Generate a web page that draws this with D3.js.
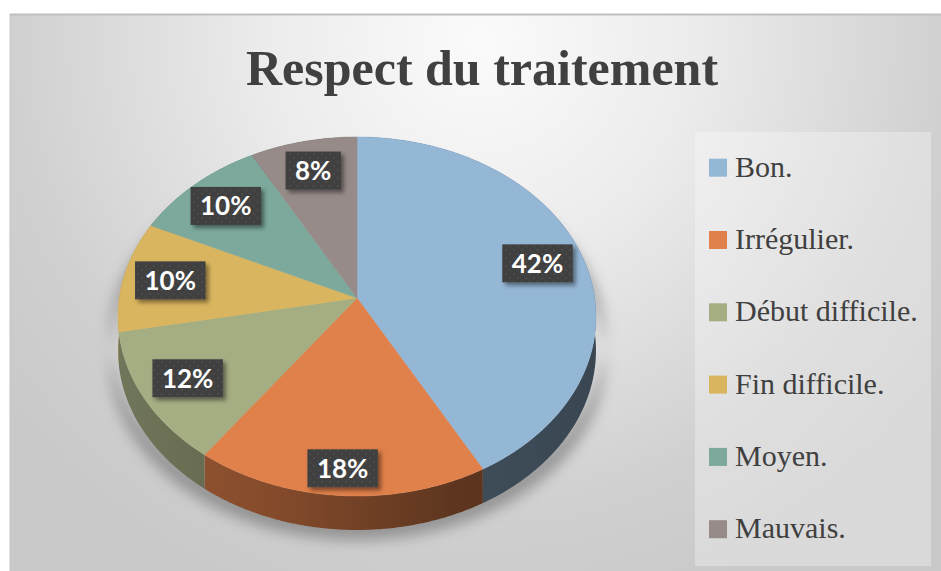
<!DOCTYPE html>
<html>
<head>
<meta charset="utf-8">
<script src="https://cdn.jsdelivr.net/npm/d3@7/dist/d3.min.js"></script>
<style>
  html, body { margin:0; padding:0; background:#fff; }
  svg { display:block; }
</style>
</head>
<body>
<svg id="chart" width="941" height="571"></svg>
<script>
// chart data
const title = 'Respect du traitement';
const categories = ['Bon.', 'Irrégulier.', 'Début difficile.', 'Fin difficile.', 'Moyen.', 'Mauvais.'];
const values = [42, 18, 12, 10, 10, 8];
const colors = ['#95b7d6', '#e0804a', '#a5ad83', '#dab55f', '#7ca99c', '#978b89'];

const svg = d3.select('#chart');
const defs = svg.append('defs');

// background gradient
const bg = defs.append('radialGradient').attr('id','bg').attr('gradientUnits','userSpaceOnUse')
  .attr('cx',480).attr('cy',40).attr('r',600);
bg.append('stop').attr('offset',0).attr('stop-color','#fbfbfb');
bg.append('stop').attr('offset',0.35).attr('stop-color','#ececec');
bg.append('stop').attr('offset',0.78).attr('stop-color','#d0d0d0');
bg.append('stop').attr('offset',1).attr('stop-color','#c9c9c9');

svg.append('rect').attr('x',10).attr('y',15).attr('width',931).attr('height',556).attr('fill','url(#bg)');
svg.append('line').attr('x1',10).attr('x2',941).attr('y1',14.5).attr('y2',14.5).attr('stroke','#bfbfbf').attr('stroke-width',2);
svg.append('line').attr('x1',10).attr('x2',10).attr('y1',14).attr('y2',571).attr('stroke','#c4c4c4').attr('stroke-width',1);

// title
svg.append('text').attr('x',482).attr('y',85).attr('text-anchor','middle')
  .attr('font-family','"Liberation Serif", serif').attr('font-weight','bold').attr('font-size',50)
  .attr('fill','#404040').text(title);

// pie geometry (mild perspective)
const cx = 357, cy = 298, ax = 237.7, by = 177.6, persp = 0.103, depth = 34;
function proj(theta, f){
  const u = f*Math.sin(theta), v = -f*Math.cos(theta), w = 1 - persp*v;
  return [cx + ax*u/w, cy + by*v/w];
}
function arcPts(a0, a1, f){
  const n = Math.max(2, Math.ceil((a1-a0)/(Math.PI/360)));
  return d3.range(n+1).map(i => proj(a0 + (a1-a0)*i/n, f));
}

const pie = d3.pie().sort(null).value(d => d.value);
const arcs = pie(categories.map((c,i) => ({name:c, value:values[i], color:colors[i]})));
const line = d3.line().curve(d3.curveLinearClosed);

// shadow under the pie
const shf = defs.append('filter').attr('id','pieShadow').attr('x','-20%').attr('y','-20%').attr('width','140%').attr('height','140%');
shf.append('feGaussianBlur').attr('stdDeviation',7);
const outline = arcPts(0, 2*Math.PI, 1);
const shadowPts = outline.map(p => [cx + (p[0]-cx)*1.035, p[1]+depth+10])
  .concat(outline.map(p => [cx + (p[0]-cx)*1.035, p[1]+20]).reverse());
svg.append('path').attr('d', line(shadowPts))
  .attr('fill','#808080').attr('opacity',0.75).attr('filter','url(#pieShadow)');

// side walls
arcs.forEach((d,i) => {
  const c = d3.rgb(d.data.color);
  const g = defs.append('linearGradient').attr('id','side'+i).attr('gradientUnits','userSpaceOnUse')
    .attr('x1', cx-ax).attr('x2', cx+ax).attr('y1',0).attr('y2',0);
  [[0,0.68],[0.35,0.58],[0.7,0.42],[1,0.39]].forEach(([o,k]) => {
    g.append('stop').attr('offset',o).attr('stop-color', d3.rgb(c.r*k, c.g*k, c.b*k).formatHex());
  });
  const top = arcPts(d.startAngle, d.endAngle, 1);
  const pts = top.concat(top.map(p => [p[0], p[1]+depth]).reverse());
  svg.append('path').attr('d', line(pts)).attr('fill','url(#side'+i+')');
});

// top faces
arcs.forEach((d,i) => {
  const pts = [[cx,cy]].concat(arcPts(d.startAngle, d.endAngle, 1));
  svg.append('path').attr('d', line(pts)).attr('fill', d.data.color)
    .attr('stroke', d.data.color).attr('stroke-width',0.5);
});

// data labels
const pat = defs.append('pattern').attr('id','dots').attr('patternUnits','userSpaceOnUse').attr('width',8).attr('height',8);
pat.append('rect').attr('width',8).attr('height',8).attr('fill','#404040');
pat.append('circle').attr('cx',2).attr('cy',2).attr('r',1).attr('fill','#4e4e4e');
pat.append('circle').attr('cx',6).attr('cy',6).attr('r',1).attr('fill','#4a4a4a');
const lf = defs.append('filter').attr('id','lblShadow').attr('x','-30%').attr('y','-30%').attr('width','170%').attr('height','170%');
lf.append('feDropShadow').attr('dx',3).attr('dy',3).attr('stdDeviation',2).attr('flood-color','#000').attr('flood-opacity',0.45);

arcs.forEach(d => {
  const mid = (d.startAngle + d.endAngle)/2;
  const v = -Math.cos(mid);
  const f = 0.8 + 0.075*Math.pow(Math.max(0, v), 4);
  const [lx, ly] = proj(mid, f);
  const g = svg.append('g');
  const rect = g.append('rect').attr('fill','url(#dots)').attr('filter','url(#lblShadow)');
  const t = g.append('text').attr('x',lx).attr('y',ly+9.5).attr('text-anchor','middle')
    .attr('font-family','Lato, "Noto Sans", sans-serif').attr('font-weight','bold').attr('font-size',26)
    .attr('fill','#fff').text(d.data.value + '%');
  const w = t.node().getComputedTextLength() + 19;
  rect.attr('x', lx - w/2).attr('y', ly - 19).attr('width', w).attr('height', 38);
});

// legend
svg.append('rect').attr('x',695).attr('y',132).attr('width',236).attr('height',434)
  .attr('fill','#ffffff').attr('opacity',0.3);
const rowY = d3.scalePoint().domain(categories).range([176.7, 538.2]);
const leg = svg.append('g').selectAll('g').data(arcs).join('g');
leg.append('rect').attr('x',709).attr('y',d => rowY(d.data.name)-18).attr('width',18).attr('height',18)
  .attr('fill', d => d.data.color);
leg.append('text').attr('x',735).attr('y',d => rowY(d.data.name))
  .attr('font-family','"Liberation Serif", serif').attr('font-size',30).attr('fill','#404040')
  .text(d => d.data.name);
</script>
</body>
</html>
